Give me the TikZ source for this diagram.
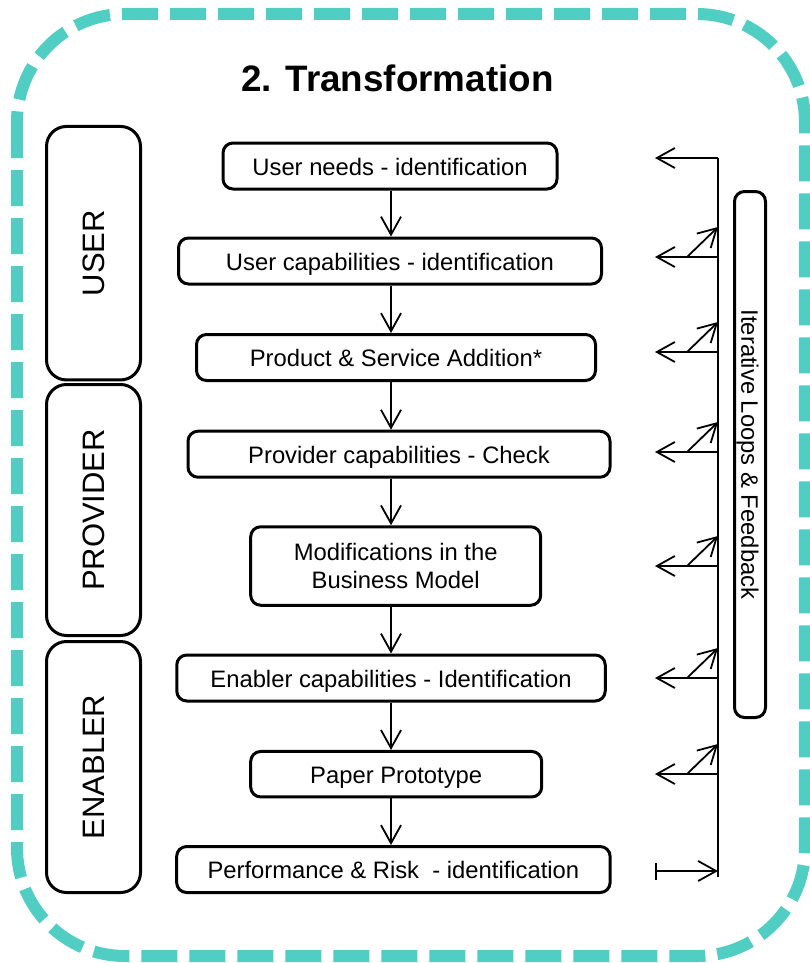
\documentclass[tikz,border=0pt]{standalone}
\usepackage{fontspec}
\setmainfont{Liberation Sans}
\usetikzlibrary{arrows.meta}
\definecolor{tealline}{RGB}{80,206,196}
\begin{document}
\begin{tikzpicture}[x=1pt,y=-1pt,
  stepbox/.style={draw, line width=3pt, rounded corners=10pt, inner sep=0pt,
    font=\fontsize{23.8}{28.3}\selectfont},
  oneline/.style={text height=18pt, text depth=0pt},
  sidebox/.style={draw, line width=3pt, rounded corners=20pt, inner sep=0pt, rotate=90,
    minimum height=94pt, font=\fontsize{31}{36}\selectfont, text height=22.2pt, text depth=0pt},
  conn/.style={line width=1.8pt, -{Straight Barb[length=18pt,width=20pt]}},
  plainline/.style={line width=1.8pt}
]
\useasboundingbox (0,0) rectangle (809,963);
\draw[tealline, line width=12pt, dash pattern=on 36pt off 12pt, rounded corners=108pt]
  (17,14) rectangle (805,956);

\node[font=\fontsize{36.8}{44}\selectfont\bfseries, anchor=base] (title) at (397.5,92) {2. Transformation};

% side boxes
\node[sidebox, minimum width=253.5pt] (user) at (93.5,253.2) {USER};
\node[sidebox, minimum width=251pt] (provider) at (93.5,510) {PROVIDER};
\node[sidebox, minimum width=251pt] (enabler) at (93.5,767) {ENABLER};

% main steps
\node[stepbox, oneline, minimum width=334pt, minimum height=46pt] (n1) at (390,166) {User needs - identification};
\node[stepbox, oneline, minimum width=423pt, minimum height=46pt] (n2) at (390,261) {User capabilities - identification};
\node[stepbox, oneline, minimum width=399pt, minimum height=46pt] (n3) at (396,357.5) {Product \& Service Addition*};
\node[stepbox, oneline, minimum width=422pt, minimum height=46pt] (n4) at (399,454.2) {Provider capabilities - Check};
\node[stepbox, align=center, minimum width=290pt, minimum height=78.5pt] (n5) at (395.7,566) {Modifications in the\\Business Model};
\node[stepbox, oneline, minimum width=428.5pt, minimum height=46pt] (n6) at (391,678) {Enabler capabilities - Identification};
\node[stepbox, oneline, minimum width=291pt, minimum height=45.5pt] (n7) at (396.2,774.2) {Paper Prototype};
\node[stepbox, oneline, minimum width=433.5pt, minimum height=46pt] (n8) at (393.4,869.5) {Performance \& Risk \ - identification};

% vertical flow
\coordinate (spine) at (391,0);
\foreach \a/\b in {n1/n2,n2/n3,n3/n4,n4/n5,n5/n6,n6/n7,n7/n8}
  \draw[conn] (\a.south -| spine) -- (\b.north -| spine);

% feedback box
\node[draw, line width=3pt, rounded corners=10pt, inner sep=0pt, rotate=-90,
  minimum width=526pt, minimum height=31pt] (fbbox) at (750,454.5) {};
\node[rotate=-90, inner sep=0pt, font=\fontsize{23.8}{28.3}\selectfont, text height=17.2pt, text depth=0pt]
  (fbtext) at (fbbox.center) {Iterative Loops \& Feedback};

% feedback loop lines
\coordinate (vtop) at (718,158);
\coordinate (vbot) at (718,877);
\draw[plainline] (vtop) -- (vbot);
\coordinate (ltop) at (655,158);
\draw[conn] (vtop) -- (ltop);
\foreach \y [count=\i] in {257,352,452,566,678,774}{
  \coordinate (r\i) at (718,\y);
  \coordinate (l\i) at (655,\y);
  \coordinate (d\i) at (687,\y);
  \coordinate (u\i) at (718,\y-30);
  \draw[conn] (r\i) -- (l\i);
  \draw[conn] (d\i) -- (u\i);
}
\coordinate (bl) at (655,871);
\coordinate (br) at (718,871);
\draw[line width=1.8pt, {Bar[width=17pt]}-{Straight Barb[length=18pt,width=20pt]}] (bl) -- (br);
\end{tikzpicture}
\end{document}
